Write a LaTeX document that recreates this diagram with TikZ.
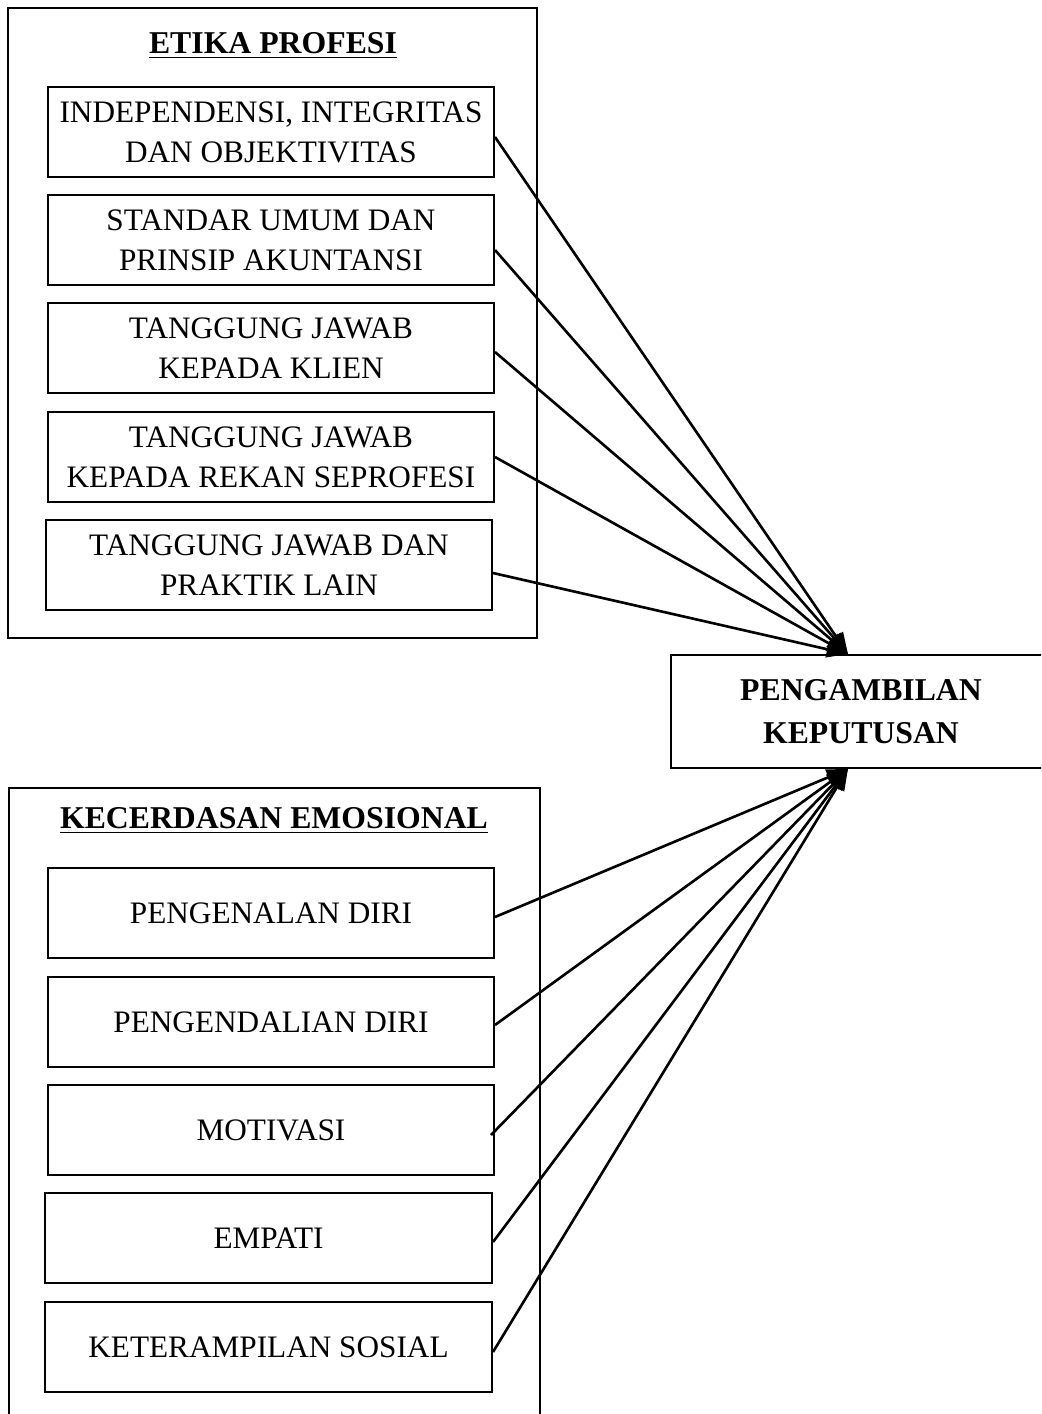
\documentclass[tikz,border=0pt]{standalone}
\usepackage{fontspec}
\setmainfont{Liberation Serif}
\usetikzlibrary{arrows.meta}
\begin{document}
\begin{tikzpicture}[x=0.4pt,y=-0.4pt,
  item/.style={draw,line width=0.8pt,minimum width=178.4pt,minimum height=36pt,align=center,inner sep=0pt,font=\fontsize{12.5}{16}\selectfont},
  group/.style={draw,line width=0.8pt},
  title/.style={font=\fontsize{12.7}{16}\selectfont\bfseries,inner sep=0pt},
  link/.style={line width=1.05pt,-{Triangle[length=8.5pt,width=6.5pt]}}]
\useasboundingbox (0,0) rectangle (1041,1414);
\clip (0,0) rectangle (1041,1414);
% outer groups
\draw[group] (8,8) rectangle (537,638);
\draw[group] (9,788) rectangle (540,1430);
\node[title] (t1) at (273,46) {\underline{ETIKA PROFESI}};
\node[title] (t2) at (274,821) {\underline{KECERDASAN EMOSIONAL}};
% items top
\node[item] (e1) at (271,132) {INDEPENDENSI, INTEGRITAS\\DAN OBJEKTIVITAS};
\node[item] (e2) at (271,240) {STANDAR UMUM DAN\\PRINSIP AKUNTANSI};
\node[item] (e3) at (271,348) {TANGGUNG JAWAB\\KEPADA KLIEN};
\node[item] (e4) at (271,457) {TANGGUNG JAWAB\\KEPADA REKAN SEPROFESI};
\node[item] (e5) at (269,565) {TANGGUNG JAWAB DAN\\PRAKTIK LAIN};
% items bottom
\node[item] (k1) at (271,913) {PENGENALAN DIRI};
\node[item] (k2) at (271,1022) {PENGENDALIAN DIRI};
\node[item] (k3) at (271,1130) {MOTIVASI};
\node[item,minimum width=178.8pt] (k4) at (268.5,1238) {EMPATI};
\node[item,minimum width=178.8pt] (k5) at (268.5,1347) {KETERAMPILAN SOSIAL};
% decision
\node[draw,line width=0.8pt,minimum width=152pt,minimum height=45.2pt,inner sep=0pt,align=center,font=\fontsize{12.7}{17}\selectfont\bfseries] (pk) at (861,711.5) {PENGAMBILAN\\KEPUTUSAN};
\coordinate (tipT) at ([xshift=-5.2pt]pk.north);
\coordinate (tipB) at ([xshift=-5.2pt]pk.south);
% links
\draw[link] ([yshift=-2pt]e1.east) -- (tipT);
\draw[link] ([yshift=-4pt]e2.east) -- (tipT);
\draw[link] ([yshift=-1.6pt]e3.east) -- (tipT);
\draw[link] (e4.east) -- (tipT);
\draw[link] ([yshift=-3.2pt]e5.east) -- (tipT);
\draw[link] ([yshift=-1.6pt]k1.east) -- (tipB);
\draw[link] ([yshift=-1.2pt]k2.east) -- (tipB);
\draw[link] ([yshift=-2pt,xshift=-1.6pt]k3.east) -- (tipB);
\draw[link] ([yshift=-1.6pt]k4.east) -- (tipB);
\draw[link] ([yshift=-2pt]k5.east) -- (tipB);
\end{tikzpicture}
\end{document}
